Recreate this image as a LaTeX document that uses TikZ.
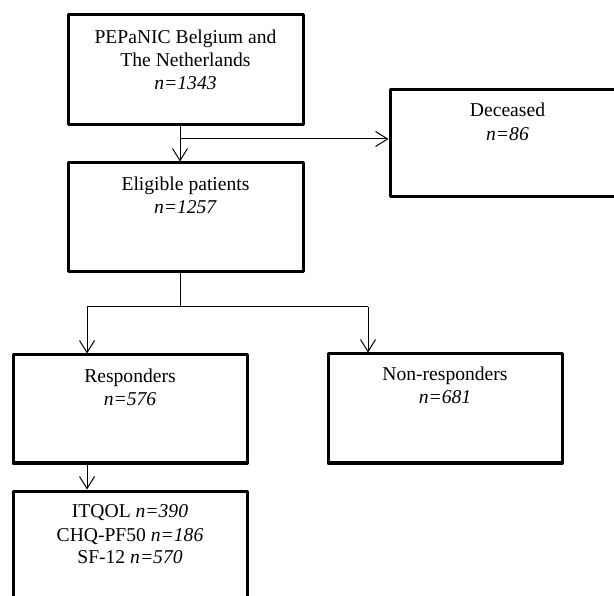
\documentclass[tikz,border=0pt]{standalone}
\usepackage{fontspec}
\setmainfont{Liberation Serif}
\usetikzlibrary{arrows.meta}
\tikzset{
  box/.style={draw, line width=3pt, line join=round, inner sep=0pt, rectangle},
  txt/.style={font=\fontsize{19.6}{22.5}\selectfont, inner sep=0pt, anchor=base},
  conn/.style={line width=1pt},
  arr/.style={conn, -{Straight Barb[length=12pt,width=15pt,line width=1pt]}}
}
\begin{document}
\begin{tikzpicture}[x=1pt,y=-1pt]
\useasboundingbox (0,0) rectangle (614,596);
\clip (0,0) rectangle (614,596);
% boxes
\node[box, minimum width=235pt, minimum height=110pt] (b1) at (185.5,70) {};
\node[box, minimum width=235pt, minimum height=109pt] (elig) at (185.5,217.5) {};
\node[box, minimum width=235pt, minimum height=107pt] (dec) at (507.5,143.5) {};
\node[box, minimum width=234pt, minimum height=108pt] (resp) at (130,409) {};
\node[box, minimum width=234pt, minimum height=109pt] (nonr) at (445,408.5) {};
\node[box, minimum width=234pt, minimum height=112pt] (itq) at (130,547) {};
% texts
\node[txt] (t1a) at (185.5,44) {PEPaNIC Belgium and};
\node[txt] (t1b) at (185.5,67) {The Netherlands};
\node[txt] (t1c) at (185.5,90) {\textit{n=1343}};
\node[txt] (t2a) at (185.5,191) {Eligible patients};
\node[txt] (t2b) at (185.5,214) {\textit{n=1257}};
\node[txt] (t3a) at (507.5,117) {Deceased};
\node[txt] (t3b) at (507.5,140.5) {\textit{n=86}};
\node[txt] (t4a) at (130,383) {Responders};
\node[txt] (t4b) at (130,406) {\textit{n=576}};
\node[txt] (t5a) at (445,381) {Non-responders};
\node[txt] (t5b) at (445,404) {\textit{n=681}};
\node[txt] (t6a) at (130,518) {ITQOL \textit{n=390}};
\node[txt] (t6b) at (130,541) {CHQ-PF50 \textit{n=186}};
\node[txt] (t6c) at (130,563) {SF-12 \textit{n=570}};
% junctions
\coordinate (j1) at (180,139);
\coordinate (j2) at (180,307);
\coordinate (jl) at (87,307);
\coordinate (jr) at (368,307);
% connectors
\draw[arr] (b1.south -| j1) -- (elig.north -| j1);
\draw[arr] (j1) -- (dec.west |- j1);
\draw[conn] (elig.south -| j2) -- (j2);
\draw[conn] (jl) -- (jr);
\draw[arr] (jl) -- (resp.north -| jl);
\draw[arr] (jr) -- (nonr.north -| jr);
\draw[arr] (resp.south -| jl) -- (itq.north -| jl);
\end{tikzpicture}
\end{document}
